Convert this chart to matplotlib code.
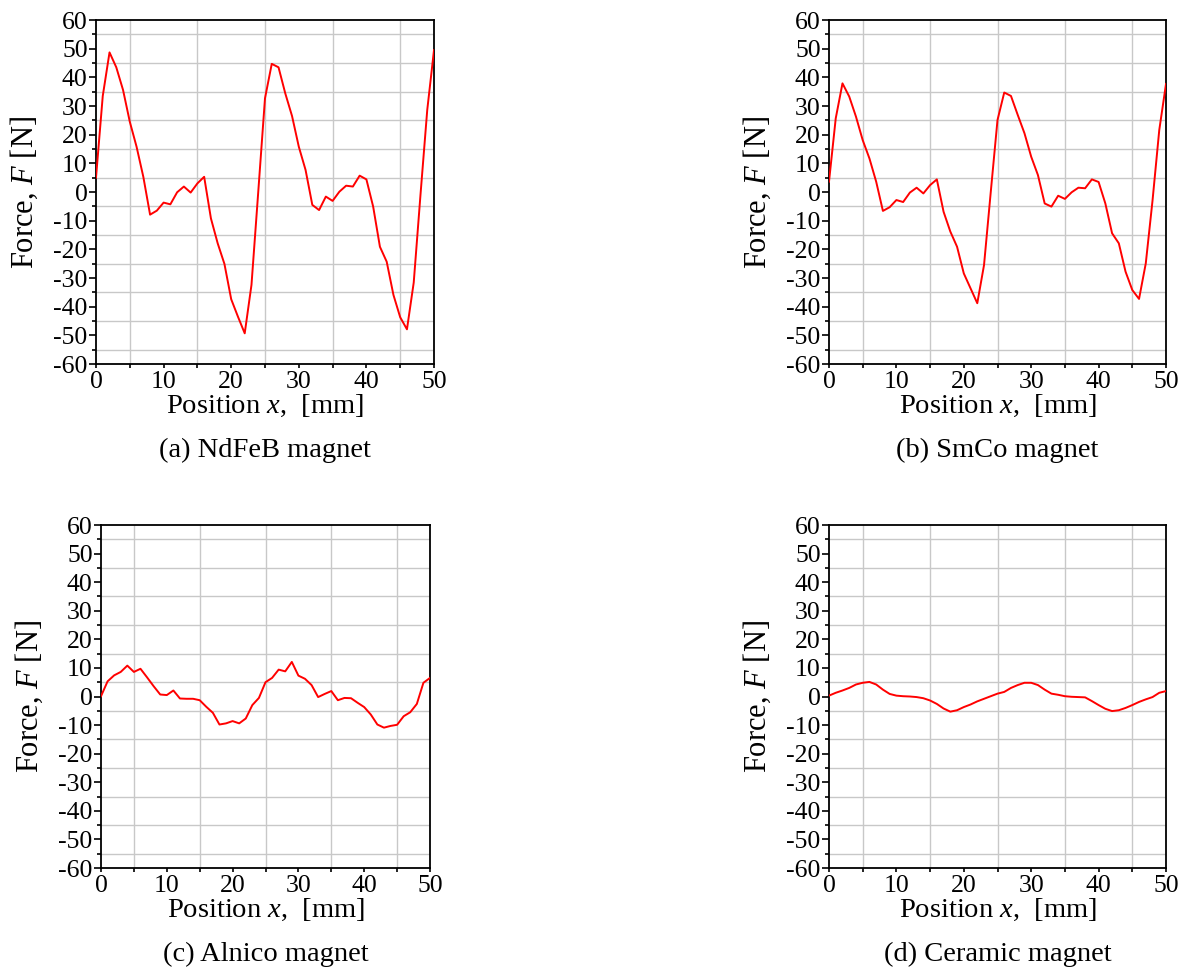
import matplotlib
matplotlib.use("Agg")
import matplotlib.pyplot as plt
import numpy as np
from matplotlib.ticker import MultipleLocator

plt.rcParams["font.family"] = ["Liberation Serif", "DejaVu Serif"]
plt.rcParams["mathtext.fontset"] = "custom"
plt.rcParams["mathtext.rm"] = "Liberation Serif"
plt.rcParams["mathtext.it"] = "Liberation Serif:italic"
plt.rcParams["axes.unicode_minus"] = False

# position along the track, 1 mm steps
position_mm = np.arange(0, 51, 1)

force_ndfeb = [
    5, 33.5, 48.7, 43.5, 35.6, 24.5, 15.8, 5.3, -7.9, -6.5,
    -3.7, -4.3, -0.1, 1.9, -0.2, 3.0, 5.3, -9.2, -17.9, -25.1,
    -37.4, -43.5, -49.3, -32.4, 0.0, 32.7, 44.7, 43.5, 34.4, 26.5,
    15.8, 7.7, -4.5, -6.3, -1.6, -3.1, 0.1, 2.2, 1.9, 5.7,
    4.4, -5.1, -19.1, -24.3, -35.9, -43.7, -47.9, -31.6, -1.0, 28.6,
    49.5,
]
force_smco = [
    3.6, 25.7, 37.9, 33.3, 26.3, 18.1, 11.7, 3.6, -6.6, -5.3,
    -2.8, -3.5, -0.2, 1.5, -0.5, 2.4, 4.4, -6.9, -13.8, -19.1,
    -28.4, -33.6, -38.8, -25.5, 0.0, 25.1, 34.7, 33.5, 26.9, 20.5,
    12.3, 5.9, -4.0, -5.1, -1.3, -2.4, -0.1, 1.5, 1.3, 4.4,
    3.5, -4.0, -14.4, -17.9, -27.8, -34.2, -37.3, -24.9, -3.0, 21.6,
    37.7,
]
force_alnico = [
    0.1, 5.3, 7.4, 8.6, 10.8, 8.6, 9.7, 6.7, 3.6, 0.7,
    0.5, 2.1, -0.7, -0.8, -0.8, -1.3, -3.6, -5.7, -9.8, -9.4,
    -8.6, -9.4, -7.7, -3.0, -0.5, 5.0, 6.5, 9.4, 8.8, 12.1,
    7.3, 6.2, 4.0, -0.2, 0.9, 1.9, -1.3, -0.5, -0.6, -2.2,
    -3.7, -6.3, -9.8, -10.9, -10.3, -9.9, -6.9, -5.5, -2.6, 4.8,
    6.5,
]
force_ceramic = [
    0.3, 1.3, 2.1, 3.0, 4.2, 4.8, 5.1, 4.2, 2.4, 0.9,
    0.3, 0.1, 0.0, -0.2, -0.6, -1.4, -2.6, -4.2, -5.3, -4.8,
    -3.7, -2.8, -1.7, -0.8, 0.1, 1.0, 1.6, 3.0, 4.0, 4.8,
    4.8, 4.0, 2.4, 1.0, 0.6, 0.1, -0.1, -0.2, -0.3, -1.6,
    -3.0, -4.3, -5.1, -4.8, -4.0, -3.0, -1.9, -1.0, -0.2, 1.3,
    1.9,
]

captions = ["(a) NdFeB magnet", "(b) SmCo magnet", "(c) Alnico magnet", "(d) Ceramic magnet"]
series = [force_ndfeb, force_smco, force_alnico, force_ceramic]

W, H = 1199, 971
# axes boxes in pixels: left, top, right, bottom
boxes = [
    (96, 20, 434, 364),
    (829, 20, 1166, 364),
    (101, 525, 430, 868),
    (829, 525, 1166, 868),
]

fig = plt.figure(figsize=(W / 100, H / 100), dpi=100)

for (l, t, r, b), force, caption in zip(boxes, series, captions):
    ax = fig.add_axes([l / W, 1 - b / H, (r - l) / W, (b - t) / H])
    ax.plot(position_mm, force, color="red", lw=1.4, zorder=3)
    ax.set_xlim(0, 50)
    ax.set_ylim(-60, 60)
    ax.xaxis.set_major_locator(MultipleLocator(10))
    ax.xaxis.set_minor_locator(MultipleLocator(5))
    ax.yaxis.set_major_locator(MultipleLocator(10))
    ax.yaxis.set_minor_locator(MultipleLocator(5))
    # grid sits on the 5-unit minor ticks only
    ax.grid(which="minor", color="#c8c8c8", lw=1.0)
    ax.grid(which="major", visible=False)
    ax.tick_params(axis="y", which="major", direction="out", length=5, width=1.2,
                   labelsize=18.5, pad=1)
    ax.tick_params(axis="y", which="minor", direction="out", length=3, width=1.2)
    ax.tick_params(axis="x", which="both", direction="out", length=3, width=1.2,
                   labelsize=18.5, pad=2)
    for s in ax.spines.values():
        s.set_linewidth(1.3)
    ax.set_xlabel(r"Position $x$,  [mm]", fontsize=20.5, labelpad=0)
    ax.set_ylabel(r"Force, $F$ [N]", fontsize=22)
    ax.yaxis.set_label_coords(-56 / (r - l), 0.5)
    fig.text((l + r) / 2 / W, 1 - (b + 86) / H, caption, fontsize=20.5,
             ha="center", va="center")

fig.savefig("out.png", dpi=100)
